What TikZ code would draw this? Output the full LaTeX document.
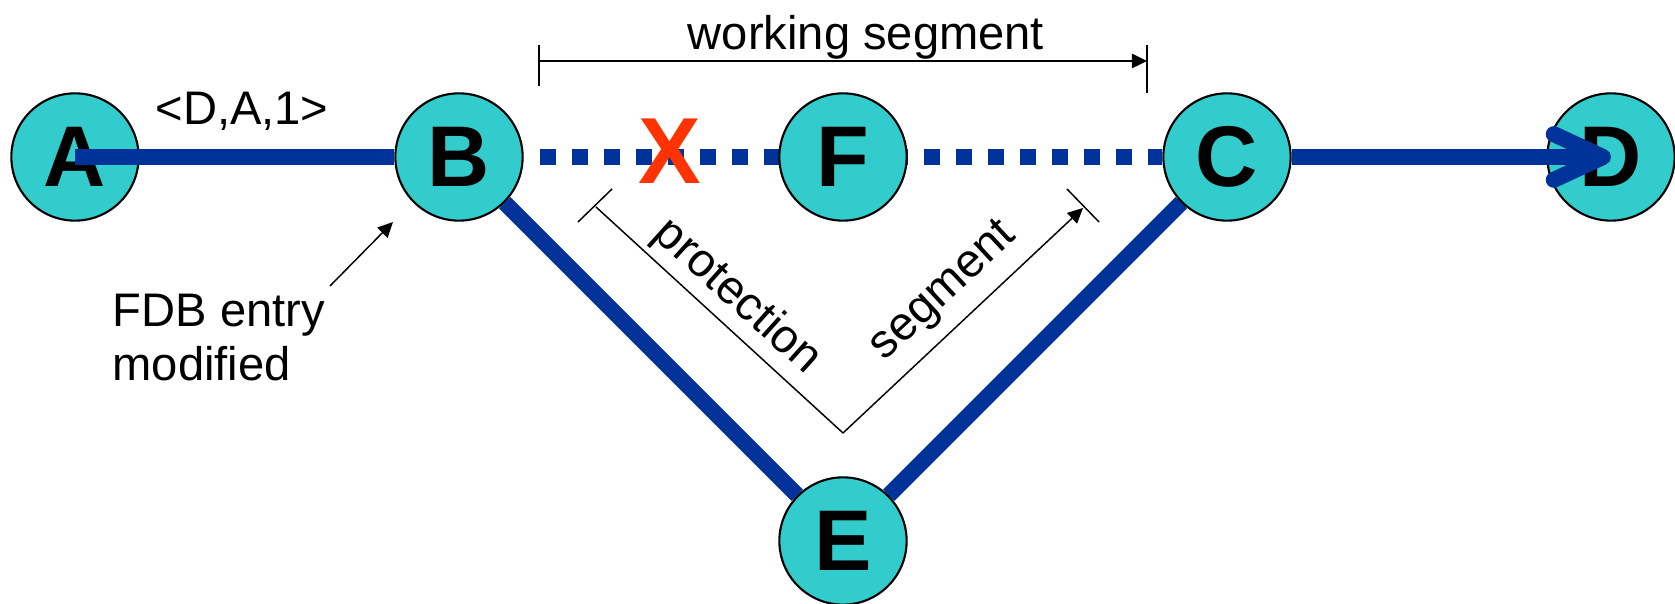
\documentclass[tikz,border=0pt]{standalone}
\usepackage{fontspec}
\setmainfont{Liberation Sans}
\usetikzlibrary{arrows.meta}
\pgfdeclarelayer{bg}
\pgfsetlayers{bg,main}
\definecolor{linkblue}{HTML}{003399}
\definecolor{nodecyan}{HTML}{33CCCC}
\definecolor{failred}{HTML}{FF3300}
\begin{document}
\begin{tikzpicture}[x=0.01cm,y=-0.01cm,
  bridge/.style={circle, draw=black, line width=0.6pt, fill=nodecyan, minimum size=36.2pt, inner sep=0pt, font=\fontsize{24.5}{28}\selectfont\bfseries},
  link/.style={draw=linkblue, line width=4.55pt},
  backup/.style={link, dash pattern=on 4.55pt off 4.55pt, dash phase=4.55pt},
  lbl/.style={font=\fontsize{13.4}{15.6}\selectfont, inner sep=0pt},
  dim/.style={draw=black, line width=0.42pt},
  dimtip/.style={dim, -{Triangle[length=4.3pt,width=4.1pt]}},
]
\useasboundingbox (0,0) rectangle (1675,604);
% nodes
\node[bridge] (A) at (75,157) {A};
\node[bridge] (B) at (459,157) {B};
\node[bridge] (F) at (843,157) {F};
\node[bridge] (C) at (1227,157) {C};
\node[bridge] (D) at (1611,157) {D};
\node[bridge] (E) at (843,541) {E};
% links behind nodes
\begin{pgfonlayer}{bg}
  \draw[link] (B) -- (E);
  \draw[link] (C) -- (E);
  \draw[backup] (B.east) -- (C.west);
\end{pgfonlayer}
% links over nodes
\draw[link] (A.center) -- (B);
\draw[link, -{Straight Barb[length=14pt,width=13pt,round]}] (C) -- (D.center);
% failure mark
\node[font=\fontsize{26.7}{30}\selectfont\bfseries, text=failred, inner sep=0pt] (X) at (670,151) {X};
% labels
\node[lbl, anchor=base] (lab) at (242,125) {<D,A,1>};
\node[lbl, anchor=base] (ws) at (866,50) {working segment};
\node[lbl, rotate=-42] (prot) at (737,297) {protection};
\node[lbl, rotate=43] (seg) at (944,292) {segment};
\node[lbl, align=left, anchor=north west] (fdb) at (112,293) {FDB entry\\modified};
% working segment bracket
\coordinate (wL) at (539,61);
\coordinate (wR) at (1147,61);
\draw[dimtip] (wL) -- (wR);
\draw[dim] (539,45) -- (539,86);
\draw[dim] (1147,45) -- (1147,93);
% protection segment bracket
\coordinate (pL) at (596,207);
\coordinate (pV) at (843,433);
\coordinate (pR) at (1083,208);
\draw[dim] (pL) -- (pV);
\draw[dimtip] (pV) -- (pR);
\draw[dim] (578,222) -- (612,189);
\draw[dim] (1067,189) -- (1099,222);
% FDB arrow
\coordinate (fdbT) at (330,286);
\coordinate (fdbH) at (393,222);
\draw[dimtip] (fdbT) -- (fdbH);
\end{tikzpicture}
\end{document}
